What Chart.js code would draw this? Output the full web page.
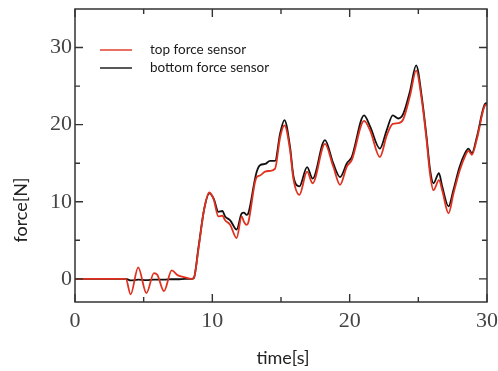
<!DOCTYPE html>
<html>
<head>
<meta charset="utf-8">
<script src="https://cdn.jsdelivr.net/npm/chart.js@4/dist/chart.umd.min.js"></script>
<style>
html,body{margin:0;padding:0;background:#fff;}
#wrap{width:498px;height:371px;position:relative;}
</style>
</head>
<body>
<div id="wrap"><canvas id="c" width="498" height="371"></canvas></div>
<script>
// ---- data ----
const timeS = [0, 3.7, 4.05, 4.6, 5.2, 5.75, 6.0, 6.48, 7.04, 7.5, 8.0, 8.5, 8.65, 9.0, 9.4, 9.78, 10.1, 10.44, 10.73, 10.93, 11.3, 11.77, 12.14, 12.3, 12.5, 12.62, 13.1, 13.23, 13.47, 13.84, 14.2, 14.57, 14.93, 15.25, 15.66, 15.9, 16.34, 16.9, 17.3, 18.2, 18.8, 19.3, 19.8, 20.15, 21.05, 21.5, 22.2, 22.7, 23.14, 23.55, 23.9, 24.4, 24.84, 25.25, 25.6, 25.86, 26.1, 26.5, 26.75, 27.2, 27.55, 28.0, 28.4, 28.65, 28.9, 29.26, 29.86, 30.0];
const topForce = [0, 0, -2.0, 1.5, -1.85, 0.75, 0.5, -1.6, 1.1, 0.45, 0.2, 0.0, 0.1, 4.0, 9.0, 11.2, 10.3, 8.1, 8.2, 7.6, 7.0, 5.3, 8.1, 7.4, 7.0, 7.3, 12.5, 13.2, 13.4, 13.9, 14.0, 14.3, 18.3, 19.9, 16.7, 13.0, 10.9, 13.9, 12.4, 17.5, 14.6, 12.2, 14.6, 15.4, 20.5, 19.2, 15.8, 18.6, 20.1, 20.2, 20.7, 23.8, 27.0, 23.2, 18.0, 13.5, 11.5, 12.8, 11.4, 8.5, 11.0, 14.0, 15.9, 16.6, 16.1, 18.1, 22.5, 22.6];
const bottomForce = [0, 0, -0.2, -0.1, -0.15, -0.1, -0.1, -0.1, -0.05, -0.05, 0, 0.0, 0.1, 4.2, 9.0, 11.1, 10.4, 8.7, 8.8, 8.1, 7.6, 6.4, 8.5, 8.6, 8.3, 8.5, 12.9, 13.9, 14.75, 14.9, 15.3, 15.3, 18.8, 20.6, 17.1, 13.4, 12.0, 14.5, 13.0, 18.0, 15.0, 13.2, 15.0, 15.8, 21.2, 19.7, 16.9, 19.3, 21.2, 20.8, 21.4, 24.4, 27.7, 23.6, 18.4, 14.1, 12.4, 13.7, 11.9, 9.4, 11.5, 14.5, 16.3, 16.9, 16.3, 18.4, 22.7, 22.8];
const seriesNames = ['top force sensor', 'bottom force sensor'];
const xTicks = [0, 5, 10, 15, 20, 25, 30];
const yTicks = [0, 5, 10, 15, 20, 25, 30];
const xTitle = 'time[s]';
const yTitle = 'force[N]';

const RED = '#e0311f';
const BLACK = '#111111';
const AXIS = '#333333';

function pts(ys){ return timeS.map((t,i)=>({x:t, y:ys[i]})); }

const frameTicks = {
  id:'frameTicks',
  afterDatasetsDraw(chart){
    const {ctx, chartArea:a, scales:{x, y}} = chart;
    ctx.save();
    ctx.strokeStyle = AXIS; ctx.lineWidth = 1.5;
    ctx.strokeRect(a.left, a.top, a.right-a.left, a.bottom-a.top);
    ctx.lineWidth = 1.4;
    ctx.beginPath();
    x.ticks.forEach(t=>{
      const px = x.getPixelForValue(t.value);
      const L = t.value % 10 === 0 ? 8 : 5;
      ctx.moveTo(px, a.bottom); ctx.lineTo(px, a.bottom-L);
      ctx.moveTo(px, a.top); ctx.lineTo(px, a.top+L);
    });
    y.ticks.forEach(t=>{
      const py = y.getPixelForValue(t.value);
      const L = t.value % 10 === 0 ? 8 : 5;
      ctx.moveTo(a.left, py); ctx.lineTo(a.left+L, py);
      ctx.moveTo(a.right, py); ctx.lineTo(a.right-L, py);
    });
    ctx.stroke();
    ctx.restore();
  },
  afterDraw(chart){
    const {ctx, chartArea:a} = chart;
    ctx.save();
    // axis titles
    ctx.fillStyle = '#222';
    ctx.font = '18px Lato';
    ctx.textAlign = 'center'; ctx.textBaseline = 'middle';
    ctx.fillText(xTitle, (a.left+a.right)/2 + 2, 358);
    ctx.translate(21, 210);
    ctx.rotate(-Math.PI/2);
    ctx.fillText(yTitle, 0, 0);
    ctx.restore();
    // legend
    ctx.save();
    ctx.font = '13.5px Lato';
    ctx.textAlign = 'left'; ctx.textBaseline = 'middle';
    const rows = [{y:50}, {y:68}];
    chart.data.datasets.forEach((ds,i)=>{
      const r = rows[i];
      ctx.strokeStyle = ds.borderColor; ctx.lineWidth = 1.4;
      ctx.beginPath(); ctx.moveTo(100, r.y); ctx.lineTo(132, r.y); ctx.stroke();
      ctx.fillStyle = '#1a1a1a';
      ctx.fillText(ds.label, 150, r.y);
    });
    ctx.restore();
  }
};

new Chart(document.getElementById('c'), {
  type:'line',
  data:{
    datasets:[
      {label:seriesNames[0], data:pts(topForce), borderColor:RED, borderWidth:1.8, pointRadius:0, cubicInterpolationMode:'monotone', fill:false},
      {label:seriesNames[1], data:pts(bottomForce), borderColor:BLACK, borderWidth:1.8, pointRadius:0, cubicInterpolationMode:'monotone', fill:false}
    ]
  },
  options:{
    responsive:false,
    animation:false,
    layout:{padding:{top:9, right:11, left:0, bottom:0}},
    plugins:{legend:{display:false}, tooltip:{enabled:false}},
    scales:{
      x:{
        type:'linear', min:0, max:30,
        grid:{display:false, drawTicks:false},
        border:{display:false},
        afterBuildTicks(s){ s.ticks = xTicks.map(v=>({value:v})); },
        afterFit(s){ s.height = 69; s.paddingLeft = 0; s.paddingRight = 0; },
        ticks:{
          autoSkip:false, maxRotation:0, padding:6,
          font:{family:'Liberation Serif', size:22}, color:'#444',
          callback:(v)=> v % 10 === 0 ? String(v) : ''
        }
      },
      y:{
        type:'linear', min:-3, max:35,
        grid:{display:false, drawTicks:false},
        border:{display:false},
        afterBuildTicks(s){ s.ticks = yTicks.map(v=>({value:v})); },
        afterFit(s){ s.width = 75; s.paddingTop = 0; s.paddingBottom = 0; },
        ticks:{
          autoSkip:false, padding:3,
          font:{family:'Liberation Serif', size:22}, color:'#444',
          callback:(v)=> v % 10 === 0 ? String(v) : ''
        }
      }
    }
  },
  plugins:[frameTicks]
});
</script>
</body>
</html>
